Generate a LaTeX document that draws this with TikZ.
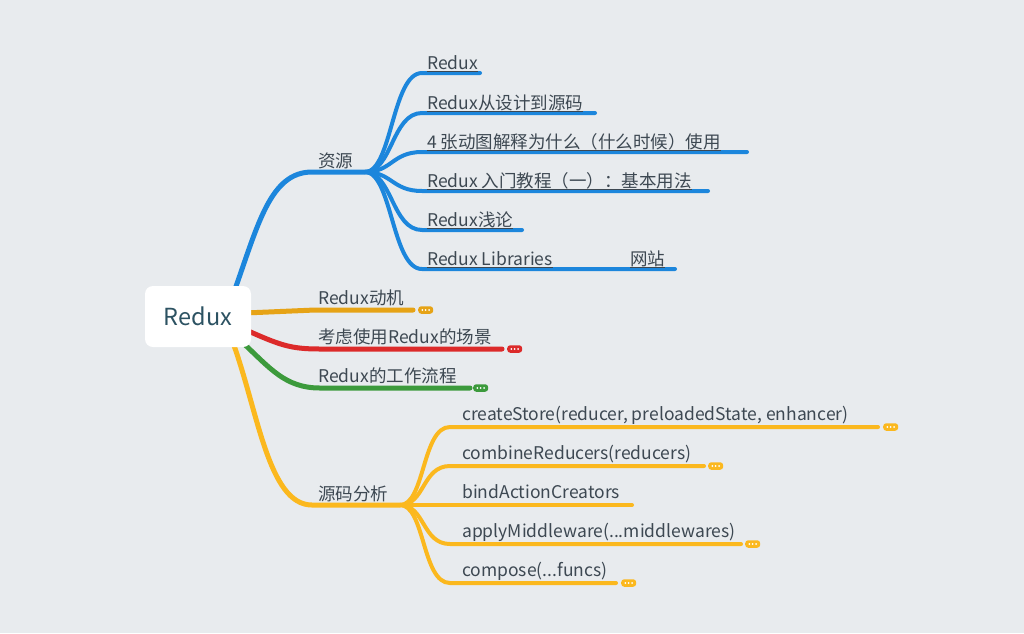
\documentclass[tikz,border=0pt]{standalone}
\usepackage{fontspec}
\setmainfont{Noto Sans CJK SC}
\usetikzlibrary{calc}
\definecolor{bg}{HTML}{E8EBEE}
\definecolor{txt}{HTML}{3D4852}
\definecolor{roottxt}{HTML}{2C5262}
\definecolor{cblue}{HTML}{1C86DC}
\definecolor{corange}{HTML}{E6A316}
\definecolor{cred}{HTML}{DC2A2A}
\definecolor{cgreen}{HTML}{3C9A3C}
\definecolor{cyellow}{HTML}{FBB81E}
\tikzset{
  rootbox/.style={fill=white, rounded corners=8pt, minimum width=106pt, minimum height=61pt, inner sep=0pt, text=roottxt, font=\fontsize{23.5}{28}\selectfont},
  lbl/.style={anchor=base west, inner sep=0pt, text=txt, font=\fontsize{17.5}{21}\selectfont},
  mainbr/.style={line width=5pt, line cap=round},
  subbr/.style={line width=4pt, line cap=round},
  uline/.style={txt, line width=0.9pt},
  badge/.style={rounded corners=3pt, minimum width=15pt, minimum height=7.5pt, inner sep=0pt, anchor=west,
    path picture={\fill[white] (path picture bounding box.center) circle (1pt)
      ++(-3.4pt,0) circle (1pt) ++(6.8pt,0) circle (1pt);}},
}
\begin{document}
\begin{tikzpicture}[x=1pt,y=-1pt]
\fill[bg] (0,0) rectangle (1024,633);
\useasboundingbox (0,0) rectangle (1024,633);

% ---------- main branches (drawn under root) ----------
\coordinate (hubA) at (365,172);
\coordinate (hubB) at (400,505);
\coordinate (eMot) at (413,310);
\coordinate (eSce) at (502,349);
\coordinate (eFlow) at (470,388);

\draw[mainbr, cblue] (234,292) .. controls (258,225) and (270,172) .. (312,172) -- (hubA);
\draw[mainbr, cyellow] (232,340) .. controls (258,410) and (268,505) .. (312,505) -- (hubB);
\draw[mainbr, corange] (245,313) .. controls (280,311) .. (315,310) -- (eMot);
\draw[mainbr, cred] (246,330) .. controls (280,345) and (290,349) .. (320,349) -- (eSce);
\draw[mainbr, cgreen] (242,342) .. controls (270,368) and (285,388) .. (320,388) -- (eFlow);

\node[rootbox] (root) at (198,316.5) {Redux};

% ---------- first-level labels ----------
\node[lbl] (res) at (318,167) {资源};
\node[lbl] (mot) at (318,304) {Redux动机};
\node[lbl] (sce) at (318,343) {考虑使用Redux的场景};
\node[lbl] (flow) at (318,382) {Redux的工作流程};
\node[lbl] (src) at (318,500) {源码分析};

\node[badge, fill=corange] (bMot) at ($(eMot)+(5,0)$) {};
\node[badge, fill=cred] (bSce) at ($(eSce)+(5,0)$) {};
\node[badge, fill=cgreen] (bFlow) at ($(eFlow)+(3,0)$) {};

% ---------- 资源 children ----------
\foreach \nm/\yy/\xe in {r1/73/480, r2/113/595, r3/152/747, r4/191/708, r5/230/522, r6/269/675}{
  \coordinate (\nm s) at (422,\yy);
  \coordinate (\nm e) at (\xe,\yy);
  \draw[subbr, cblue] (hubA) .. controls (392,172) and (392,\yy) .. (\nm s) -- (\nm e);
}
\node[lbl] (t1) at (427,69) {Redux};
\node[lbl] (t2) at (427,109) {Redux从设计到源码};
\node[lbl] (t3) at (427,148) {4 张动图解释为什么（什么时候）使用};
\node[lbl] (t4) at (427,187) {Redux 入门教程（一）：基本用法};
\node[lbl] (t5) at (427,226) {Redux浅论};
\node[lbl] (t6) at (427,265) {Redux Libraries};
\node[lbl] (t7) at (630,265) {网站};
\foreach \t in {t1,t2,t3,t4,t5,t6,t7}{
  \draw[uline] ($(\t.base west)+(0,2.3)$) -- ($(\t.base east)+(0,2.3)$);
}

% ---------- 源码分析 children ----------
\foreach \nm/\yy/\xe in {s1/427/878, s2/466/704, s3/505/632, s4/544/741, s5/583/616}{
  \coordinate (\nm s) at (450,\yy);
  \coordinate (\nm e) at (\xe,\yy);
  \draw[subbr, cyellow] (hubB) .. controls (425,505) and (422,\yy) .. (\nm s) -- (\nm e);
}
\node[lbl] (c1) at (462,420) {createStore(reducer, preloadedState, enhancer)};
\node[lbl] (c2) at (462,459) {combineReducers(reducers)};
\node[lbl] (c3) at (462,498) {bindActionCreators};
\node[lbl] (c4) at (462,537) {applyMiddleware(...middlewares)};
\node[lbl] (c5) at (462,576) {compose(...funcs)};

\node[badge, fill=cyellow] (b1) at ($(s1e)+(5,0)$) {};
\node[badge, fill=cyellow] (b2) at ($(s2e)+(4,0)$) {};
\node[badge, fill=cyellow] (b4) at ($(s4e)+(4,0)$) {};
\node[badge, fill=cyellow] (b5) at ($(s5e)+(5,0)$) {};
\end{tikzpicture}
\end{document}
